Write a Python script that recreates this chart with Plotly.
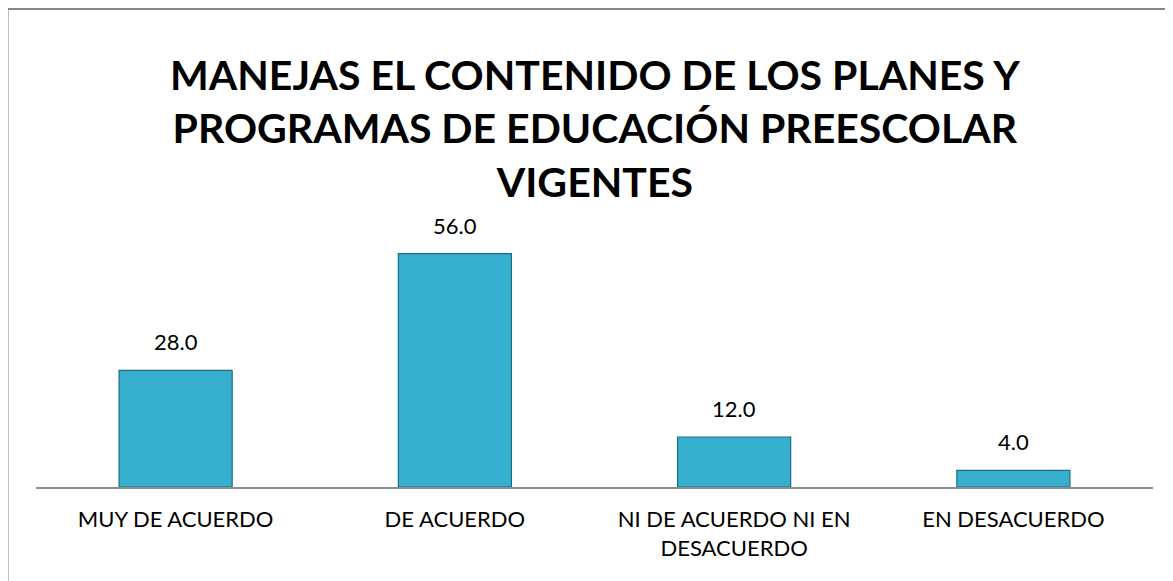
"""Bar chart: manejo de planes y programas de educación preescolar."""

import plotly.graph_objects as go

# Data
categories = [
    "MUY DE ACUERDO",
    "DE ACUERDO",
    "NI DE ACUERDO NI EN<br>DESACUERDO",
    "EN DESACUERDO",
]
values = [28.0, 56.0, 12.0, 4.0]
title_text = "MANEJAS EL CONTENIDO DE LOS PLANES Y<br>PROGRAMAS DE EDUCACIÓN PREESCOLAR<br>VIGENTES"

FONT = "Lato"

fig = go.Figure()

fig.add_trace(
    go.Bar(
        x=categories,
        y=values,
        marker=dict(color="#37B0D0", line=dict(color="#1E6C82", width=1.2)),
        hoverinfo="x+y",
    )
)

# Data labels above the bars
for cat, val in zip(categories, values):
    fig.add_annotation(
        x=cat,
        y=val,
        text=f"{val:.1f}",
        showarrow=False,
        yanchor="bottom",
        yshift=13,
        font=dict(family=FONT, size=22, color="#000000"),
    )

# Title (three lines, centred over the chart)
fig.add_annotation(
    text=f"<b>{title_text}</b>",
    xref="paper",
    yref="paper",
    x=0.5,
    y=1.436,
    xanchor="center",
    yanchor="middle",
    showarrow=False,
    font=dict(family=FONT, size=41, color="#000000"),
)

# Chart border (only top and left edges fall inside the window)
fig.add_shape(
    type="rect",
    xref="paper",
    yref="paper",
    x0=-0.0255,
    x1=1.2,
    y0=-0.6,
    y1=1.912,
    line=dict(color="#868686", width=2),
    fillcolor="rgba(0,0,0,0)",
    layer="below",
)

# page body has an 8px margin, so the figure is sized to fit inside it
fig.update_layout(
    width=1165,
    height=573,
    margin=dict(l=28, r=20, t=229, b=94),
    paper_bgcolor="white",
    plot_bgcolor="white",
    bargap=0.595,
    showlegend=False,
)

fig.update_xaxes(
    showline=True,
    linecolor="#8C8C8C",
    linewidth=1.5,
    ticks="",
    showgrid=False,
    ticklabelstandoff=12,
    tickfont=dict(family=FONT, size=22, color="#000000"),
)
fig.update_yaxes(
    range=[0, 60],
    visible=False,
    showgrid=False,
)

fig.write_html("out.html")
